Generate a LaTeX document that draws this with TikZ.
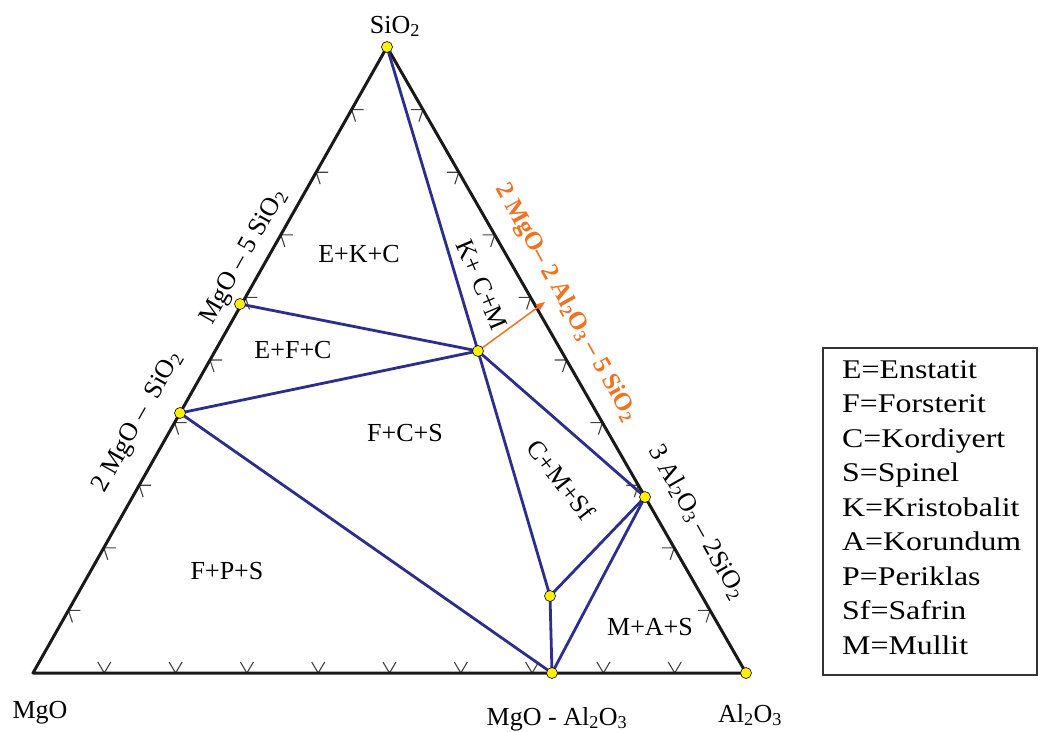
\documentclass[tikz,border=0pt]{standalone}
\usepackage{fontspec}
\setmainfont{Liberation Serif}
\usetikzlibrary{arrows.meta}
\definecolor{lineblue}{RGB}{45,45,140}
\definecolor{orangec}{RGB}{240,115,35}
\definecolor{ptyellow}{RGB}{255,240,0}
\begin{document}
\begin{tikzpicture}[x=1pt,y=-1pt,
  triedge/.style={line width=3pt, black!90, line join=round},
  tieline/.style={line width=2.8pt, lineblue},
  tickmark/.style={line width=1.1pt, black!75},
  ptmark/.style={circle, fill=ptyellow, draw=black, line width=0.6pt, inner sep=0pt, minimum size=11pt},
  lbl/.style={font=\fontsize{26}{30}\selectfont, inner sep=0pt},
  leg/.style={font=\fontsize{27}{30}\selectfont, anchor=base west, inner sep=0pt}]
\useasboundingbox (0,0) rectangle (1040,731);
% corners and points
\coordinate (S) at (387,47);
\coordinate (M) at (33,673);
\coordinate (A) at (746,673);
\coordinate (En) at (240,304);
\coordinate (Fo) at (180,413);
\coordinate (Co) at (478,351);
\coordinate (Mu) at (645,497);
\coordinate (Sa) at (550,596);
\coordinate (Sp) at (552,673);
\coordinate (arr) at (545,302);
% ticks
\foreach \k in {1,...,9}{
  \pgfmathsetmacro\bx{33+71.3*\k}
  \draw[tickmark] (\bx-6.5,662) -- (\bx,673) -- (\bx+6.5,662);
  \pgfmathsetmacro\lx{33+35.4*\k}
  \pgfmathsetmacro\ly{673-62.6*\k}
  \draw[tickmark] (\lx+12,\ly) -- (\lx,\ly) -- (\lx+4,\ly+12);
  \pgfmathsetmacro\rx{746-35.9*\k}
  \pgfmathsetmacro\ry{673-62.6*\k}
  \draw[tickmark] (\rx-12,\ry) -- (\rx,\ry) -- (\rx-4,\ry+12);
}
% triangle
\draw[triedge] (M) -- (A) -- (S) -- cycle;
% tie lines
\draw[tieline] (S) -- (Co) -- (Sa);
\draw[tieline] (En) -- (Co);
\draw[tieline] (Fo) -- (Co);
\draw[tieline] (Fo) -- (Sp);
\draw[tieline] (Co) -- (Mu);
\draw[tieline] (Sa) -- (Mu);
\draw[tieline] (Sa) -- (Sp);
\draw[tieline] (Sp) -- (Mu);
\draw[orangec, line width=1.5pt, -{Triangle[length=9pt,width=7pt]}] (Co) -- (arr);
% points
\foreach \p in {S,A,En,Fo,Co,Mu,Sa,Sp}{
  \node[ptmark] (pt\p) at (\p) {};
}
% vertex labels
\node[lbl, anchor=base] (lS) at (395,33) {SiO\textsubscript{2}};
\node[lbl, anchor=base] (lM) at (40,718) {MgO};
\node[lbl, anchor=base] (lSp) at (557,725) {MgO - Al\textsubscript{2}O\textsubscript{3}};
\node[lbl, anchor=base] (lA) at (750,722) {Al\textsubscript{2}O\textsubscript{3}};
% edge labels
\node[lbl, rotate=60.5] (lEn) at (244,257) {MgO -- 5 SiO\textsubscript{2}};
\node[lbl, rotate=60.5] (lFo) at (138,422) {2 MgO --\ \ SiO\textsubscript{2}};
\node[lbl, rotate=-60.5] (lMu) at (697,522) {3 Al\textsubscript{2}O\textsubscript{3} -- 2SiO\textsubscript{2}};
\node[lbl, rotate=-61, text=orangec, font=\fontsize{25}{30}\selectfont\bfseries] (lCo) at (566,303) {2 MgO-- 2 Al\textsubscript{2}O\textsubscript{3} -- 5 SiO\textsubscript{2}};
% region labels
\node[lbl, anchor=base] (r1) at (359,262) {E+K+C};
\node[lbl, anchor=base] (r2) at (293,358) {E+F+C};
\node[lbl, anchor=base] (r3) at (405,441) {F+C+S};
\node[lbl, anchor=base] (r4) at (227,579) {F+P+S};
\node[lbl, anchor=base] (r5) at (650,635) {M+A+S};
\node[lbl, rotate=-67] (r6) at (482,285) {K+ C+M};
\node[lbl, rotate=-52] (r7) at (561,480) {C+M+Sf};
% legend
\draw[line width=1.5pt, black!80] (823,348) rectangle (1037,675);
\foreach \t [count=\i from 0] in {E=Enstatit,F=Forsterit,C=Kordiyert,S=Spinel,K=Kristobalit,A=Korundum,P=Periklas,Sf=Safrin,M=Mullit}{
  \node[leg] (leg\i) at (842,378+34.5*\i) {\scalebox{1.18}[1]{\t}};
}
\end{tikzpicture}
\end{document}
